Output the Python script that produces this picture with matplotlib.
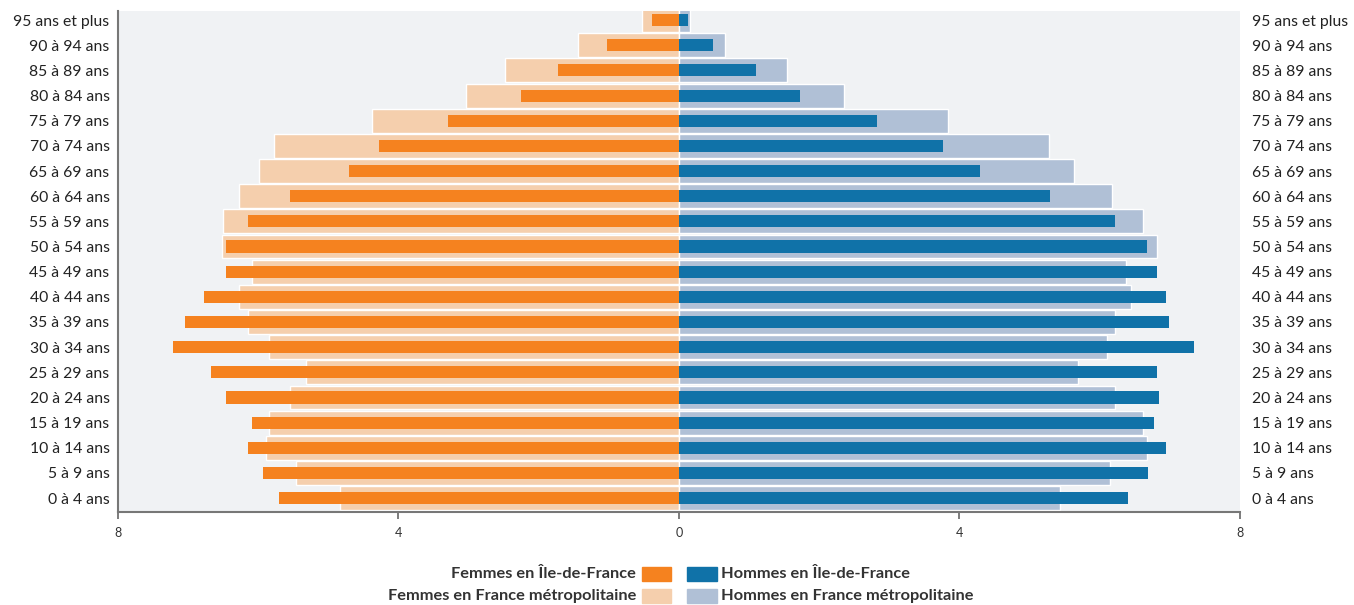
import matplotlib.pyplot as plt
from matplotlib.patches import Rectangle

plt.rcParams['font.family'] = ['Lato', 'DejaVu Sans']

# tranches d'age, du bas vers le haut
ages = ["0 à 4 ans", "5 à 9 ans", "10 à 14 ans", "15 à 19 ans", "20 à 24 ans",
        "25 à 29 ans", "30 à 34 ans", "35 à 39 ans", "40 à 44 ans", "45 à 49 ans",
        "50 à 54 ans", "55 à 59 ans", "60 à 64 ans", "65 à 69 ans", "70 à 74 ans",
        "75 à 79 ans", "80 à 84 ans", "85 à 89 ans", "90 à 94 ans", "95 ans et plus"]

femmes_idf = [5.71, 5.93, 6.15, 6.09, 6.46, 6.68, 7.22, 7.05, 6.77, 6.46,
              6.46, 6.15, 5.55, 4.71, 4.28, 3.29, 2.25, 1.72, 1.03, 0.39]
femmes_fm = [4.83, 5.46, 5.89, 5.85, 5.55, 5.32, 5.85, 6.15, 6.28, 6.09,
             6.52, 6.50, 6.28, 5.99, 5.77, 4.38, 3.04, 2.48, 1.44, 0.52]
hommes_idf = [6.41, 6.69, 6.94, 6.78, 6.85, 6.82, 7.34, 6.99, 6.94, 6.81,
              6.67, 6.22, 5.29, 4.29, 3.76, 2.82, 1.73, 1.10, 0.49, 0.13]
hommes_fm = [5.44, 6.14, 6.67, 6.62, 6.22, 5.69, 6.11, 6.22, 6.45, 6.38,
             6.81, 6.62, 6.18, 5.63, 5.28, 3.83, 2.35, 1.54, 0.66, 0.16]

c_f_idf = '#F5821F'
c_f_fm = '#F5CFAD'
c_h_idf = '#1072A8'
c_h_fm = '#B0C0D6'

fig = plt.figure(figsize=(13.54, 6.05), dpi=100)
ax = fig.add_axes([0.0871, 0.1542, 0.8287, 0.8276])
ax.set_facecolor('#F0F2F4')

y = list(range(len(ages)))
ax.barh(y, [-v for v in femmes_fm], height=0.95, color=c_f_fm, edgecolor='white', linewidth=1)
ax.barh(y, hommes_fm, height=0.95, color=c_h_fm, edgecolor='white', linewidth=1)
ax.barh(y, [-v for v in femmes_idf], height=0.48, color=c_f_idf, linewidth=0)
ax.barh(y, hommes_idf, height=0.48, color=c_h_idf, linewidth=0)

ax.set_xlim(-8, 8)
ax.set_ylim(-0.54, 19.36)
ax.set_xticks([-8, -4, 0, 4, 8])
ax.set_xticklabels(['8', '4', '0', '4', '8'], fontsize=9, color='#333333')
ax.set_yticks(y)
ax.set_yticklabels(ages, fontsize=11.3, color='#222222')
ax.tick_params(axis='y', length=0, pad=6)
ax.tick_params(axis='x', length=5, width=1.2, color='#666666', pad=6, direction='out')

# etiquettes a droite
ax2 = ax.twinx()
ax2.set_ylim(ax.get_ylim())
ax2.set_yticks(y)
ax2.set_yticklabels(ages, fontsize=11.3, color='#222222')
ax2.tick_params(axis='y', length=0, pad=9)
for s in ['top', 'right', 'left', 'bottom']:
    ax2.spines[s].set_visible(False)

for s in ['top', 'right']:
    ax.spines[s].set_visible(False)
for s in ['left', 'bottom']:
    ax.spines[s].set_color('#777777')
    ax.spines[s].set_linewidth(1.5)

# legende
W, H = 1354, 605
def fx(px):
    return px / W
def fy(py):
    return 1 - py / H

rows = [(574, "Femmes en Île-de-France", c_f_idf, c_h_idf, "Hommes en Île-de-France"),
        (596, "Femmes en France métropolitaine", c_f_fm, c_h_fm, "Hommes en France métropolitaine")]
for py, lt, lc, rc, rt in rows:
    fig.text(fx(636), fy(py), lt, ha='right', va='center', fontsize=11.8,
             fontweight='bold', color='#333333')
    fig.patches.append(Rectangle((fx(642), fy(py + 7)), fx(29), 14 / H,
                                 transform=fig.transFigure, color=lc))
    fig.patches.append(Rectangle((fx(687), fy(py + 7)), fx(30), 14 / H,
                                 transform=fig.transFigure, color=rc))
    fig.text(fx(721), fy(py), rt, ha='left', va='center', fontsize=11.8,
             fontweight='bold', color='#333333')

fig.savefig('out.png', dpi=100)
